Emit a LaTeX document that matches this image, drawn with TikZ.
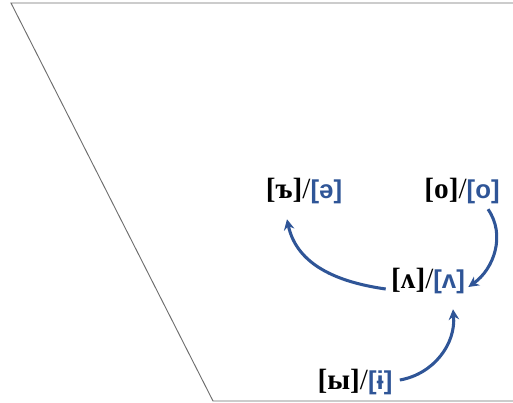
\documentclass[tikz,border=0pt]{standalone}
\usepackage{fontspec}
\setmainfont{Liberation Serif}
\newfontfamily\ipasans{Liberation Sans}
\usetikzlibrary{arrows.meta,calc}
\definecolor{vowelblue}{RGB}{47,85,151}
\definecolor{edgegray}{RGB}{110,110,110}
\newcommand{\bk}[1]{{\bfseries #1}}
\newcommand{\bl}[1]{{\ipasans\bfseries\color{vowelblue}\fontsize{22}{30}\selectfont#1}}
\tikzset{
  sound/.style={inner sep=1pt, font=\fontsize{25}{30}\selectfont},
  reduction/.style={-{Stealth[length=9pt,width=9pt]}, line width=2.6pt, vowelblue},
}

\begin{document}
\begin{tikzpicture}[x=0.03cm, y=-0.03cm]
\useasboundingbox (0,0) rectangle (513,403);
\draw [edgegray, line width=0.8pt] (513,3) -- (11,3) -- (213,401) -- (513,401);
\node[sound] (er) at (304,191) {\bk{[ъ]}/\bl{[ə]}};
\node[sound] (o)  at (462,191) {\bk{[o]}/\bl{[o]}};
\node[sound] (a)  at (428,281) {\bk{[ʌ]}/\bl{[ʌ]}};
\node[sound] (y)  at (355,382) {\bk{[ы]}/\bl{[ɨ]}};
\draw [reduction] ($(a.west)+(-4,8)$) to[out=172, in=-78] ($(er.south)+(-17,14)$);
\draw [reduction] ($(o.south)+(26,4)$) to[out=-55, in=35] ($(a.east)+(2,6)$);
\draw [reduction] ($(y.east)+(6,-2)$) to[out=10, in=-85] ($(a.south)+(25,14)$);
\end{tikzpicture}
\end{document}
